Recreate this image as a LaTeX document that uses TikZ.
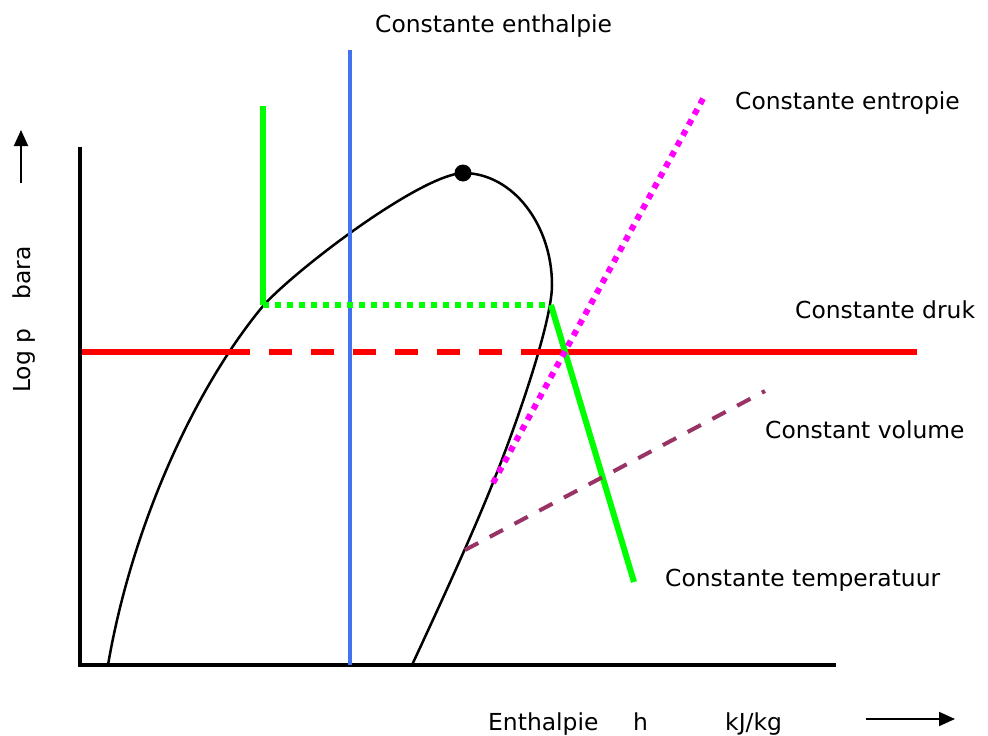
\documentclass[tikz,border=0pt]{standalone}
\usepackage{fontspec}
\setmainfont{DejaVu Sans}
\usetikzlibrary{arrows.meta}
\definecolor{myblue}{RGB}{66,114,240}
\definecolor{mypurple}{RGB}{153,51,102}
\definecolor{mygreen}{RGB}{0,255,0}
\definecolor{mymag}{RGB}{255,0,255}
\definecolor{myred}{RGB}{255,0,0}
\begin{document}
\begin{tikzpicture}[x=1pt,y=-1pt,
  lbl/.style={anchor=base west,inner sep=0pt,font=\fontsize{23.4}{28}\selectfont},
  axisline/.style={line width=3.5pt,black},
  domeline/.style={line width=2.5pt,black},
  redline/.style={line width=6pt,myred},
  greenline/.style={line width=6pt,mygreen},
  greendots/.style={line width=5.5pt,mygreen,dash pattern=on 6pt off 6pt},
  magdots/.style={line width=6pt,mymag,dash pattern=on 6pt off 6pt},
  purpledash/.style={line width=4pt,mypurple,dash pattern=on 15pt off 13pt},
  blueline/.style={line width=3.5pt,myblue},
  arr/.style={line width=2pt,-{Triangle[length=16pt,width=14pt]}}
]
\useasboundingbox (0,0) rectangle (988,736);
% coordinates
\coordinate (Ytop) at (80,147);
\coordinate (O) at (80,665);
\coordinate (Xend) at (836,665);
\coordinate (B1) at (350,50);
\coordinate (B2) at (350,665);
\coordinate (G1) at (263,106);
\coordinate (G2) at (263,305);
\coordinate (G3) at (551,305);
\coordinate (G4) at (634,582);
\coordinate (R0) at (82,352);
\coordinate (R1) at (250,352);
\coordinate (R2) at (269,352);
\coordinate (R3) at (502,352);
\coordinate (R4) at (521,352);
\coordinate (R5) at (917,352);
\coordinate (M1) at (493,483);
\coordinate (M2) at (705,95);
\coordinate (P1) at (465,550);
\coordinate (P2) at (765,391);
\coordinate (UA1) at (21,183);
\coordinate (UA2) at (21,130);
\coordinate (RA1) at (866,719);
\coordinate (RA2) at (955,719);
\coordinate (D0) at (108,665);
\coordinate (D1) at (263,306);
\coordinate (D2) at (463,173);
\coordinate (D3) at (552,285);
\coordinate (D4) at (494,480);
\coordinate (D5) at (412,665);
% axes
\draw[axisline] (Ytop) -- (O) -- (Xend);
% dome
\draw[domeline] (D0) .. controls (132,525) and (195,388) .. (D1)
  .. controls (295,270) and (420,175) .. (D2)
  .. controls (513,173) and (552,225) .. (D3)
  .. controls (552,320) and (520,415) .. (D4)
  .. controls (472,536) and (432,622) .. (D5);
% blue enthalpy line
\draw[blueline] (B1) -- (B2);
% red pressure line
\draw[redline] (R0) -- (R1);
\draw[redline,dash pattern=on 23pt off 19pt] (R2) -- (R3);
\draw[redline] (R4) -- (R5);
% green isotherm
\draw[greenline] (G1) -- (G2);
\draw[greendots] (G2) -- (G3);
\draw[greenline] (G3) -- (G4);
% magenta entropy
\draw[magdots] (M1) -- (M2);
% purple volume
\draw[purpledash] (P1) -- (P2);
% critical point
\node[circle,fill=black,inner sep=0pt,minimum size=17pt] (crit) at (D2) {};
% arrows
\draw[arr] (UA1) -- (UA2);
\draw[arr] (RA1) -- (RA2);
% labels
\node[lbl] (lh) at (375,32) {Constante enthalpie};
\node[lbl] (ls) at (735,109) {Constante entropie};
\node[lbl] (lp) at (795,318) {Constante druk};
\node[lbl] (lv) at (765,438) {Constant volume};
\node[lbl] (lt) at (665,586) {Constante temperatuur};
\node[lbl] (xe) at (488,730) {Enthalpie};
\node[lbl] (xh) at (633,730) {h};
\node[lbl] (xu) at (725,730) {kJ/kg};
\node[lbl,rotate=90] (yl) at (30,393) {Log p};
\node[lbl,rotate=90] (yb) at (30,300) {bara};
\end{tikzpicture}
\end{document}
